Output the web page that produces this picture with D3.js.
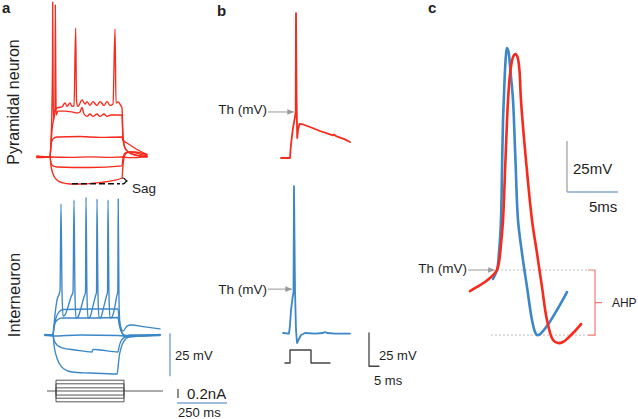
<!DOCTYPE html>
<html><head><meta charset="utf-8">
<script src="https://cdn.jsdelivr.net/npm/d3@7"></script>
<style>body{margin:0;background:#fff}svg{display:block;font-family:"Liberation Sans",Arial,Helvetica,sans-serif}</style>
</head><body><svg id="chart" width="638" height="419"></svg>
<script>
// ---------- DATA (time in ms, membrane potential in mV, current in nA) ----------
// Panel a – pyramidal neuron, current-step responses
const pyrSpike1 = [[-65,-65],[0,-65],[5,-55.1],[9,-40.6],[12.5,-8.6],[13.5,25.1],[15,-8.6],[17,-43.5],[20,-38.8],[35,-36.5],[60,-35.9],[75,-33.5],[85,-35.6],[100,-33.5],[110,-35.6],[120,-35.3],[128.5,10],[132.5,-32.2],[140,-35.6],[160,-31.8],[175,-34.2],[185,-32.8],[200,-35],[215,-32.8],[235,-35],[250,-32.8],[270,-35],[285,-32.8],[300,-35],[315,-34.2],[325,9.4],[330,-33.6],[340,-33],[355,-35.3],[360,-36.5],[365,-52.2],[375,-59.8],[400,-62.7],[450,-64.4],[485,-65]];
const pyrSpike2 = [[-65,-65.3],[0,-65],[5,-58],[10,-49.3],[20,-42.3],[25,-38.8],[26.5,23.4],[28.5,-8.6],[31,-40.6],[40,-38.3],[75,-38.3],[110,-38.8],[135,-39.4],[150,-38.8],[160,-36.2],[170,-40],[185,-41.4],[200,-40],[215,-41.4],[235,-40],[250,-41.4],[270,-40],[285,-41.4],[305,-40.6],[330,-40.6],[355,-40.6],[360,-41.2],[365,-55.1],[380,-60.9],[410,-63.3],[485,-64.7]];
const pyrDepol = [[-65,-64.8],[0,-65],[5,-58],[15,-54.5],[35,-53.4],[150,-53.1],[250,-53.6],[360,-53.4],[365,-55.1],[385,-56.9],[415,-59.2],[450,-61.5],[485,-63.5]];
const pyrRest = [[-65,-64.4],[0,-65],[100,-65.2],[200,-64.9],[300,-65.2],[360,-65],[400,-65.4],[485,-64.7]];
const pyrHyper1 = [[-65,-65.2],[0,-65],[5,-68.5],[15,-70.2],[35,-70.8],[200,-71.1],[360,-70.2],[365,-65.6],[375,-62.7],[400,-62.1],[450,-63.3],[485,-64.4]];
const pyrHyper2 = [[-65,-65],[0,-65],[5,-70.2],[15,-74.9],[35,-78.4],[65,-80.1],[100,-80.7],[150,-80.7],[225,-80.1],[300,-79],[360,-77.2],[365,-69.7],[375,-63.8],[390,-62.1],[425,-62.1],[485,-63.8]];
const sagSpan = [110, 350];           // ms, dashed sag marker
const sagLevels = [-80.6, -77.2];     // mV, peak vs steady-state

// Panel a – interneuron
const intSpike = [[-40,-65],[0,-65],[5,-59.2],[12.5,-50.5],[20,-44.7],[35,-39.4],[40,11.2],[45,-38.8],[50,-54],[60,-53.4],[75,-48.7],[90,-42.9],[100,-40],[105,13.5],[110,-41.7],[115,-55.1],[125,-54.5],[140,-49.3],[155,-42.9],[162.5,-40],[165,15.2],[170,-41.7],[175,-55.1],[185,-54.5],[200,-48.1],[212.5,-42.3],[217.5,-40],[220,14.1],[225,-41.7],[230,-55.1],[240,-54.5],[255,-48.1],[267.5,-42.3],[272.5,-40],[275,13.5],[280,-41.7],[285,-55.1],[295,-54.5],[310,-48.1],[320,-41.7],[324,-40],[326,14.1],[330,-44.7],[335,-59.2],[345,-63.8],[365,-66.2],[395,-65.6],[535,-65]];
const intDepol1 = [[-40,-65.3],[0,-65],[5,-60.9],[15,-55.1],[30,-51.6],[50,-50.2],[185,-49.9],[325,-49.9],[330,-55.1],[340,-60.9],[350,-62.7],[370,-59.8],[390,-59.2],[460,-60.3],[535,-61.5]];
const intDepol2 = [[-40,-64.7],[0,-65],[2.5,-62.1],[10,-58],[25,-56],[45,-55.1],[185,-55.1],[325,-54.8],[330,-58.6],[340,-62.7],[355,-65],[385,-65.6],[535,-65.3]];
const intRest = [[-40,-65],[0,-65.6],[135,-65],[325,-65.3],[360,-65.6],[535,-64.7]];
const intHyper1 = [[-40,-65],[0,-65],[5,-67.9],[20,-70.8],[50,-72.6],[110,-73.7],[195,-74.9],[200,-73.4],[235,-73.7],[325,-74.9],[330,-72],[340,-68.5],[360,-66.2],[385,-65],[535,-65]];
const intHyper2 = [[-40,-65],[0,-65],[5,-70.8],[15,-76.6],[30,-81.3],[55,-84.8],[95,-86.5],[185,-87.1],[320,-87.7],[325,-84.2],[330,-78.4],[340,-72.6],[355,-68.5],[380,-66.2],[535,-65]];
const stepLevels = [0.24, 0.16, 0.07, -0.09, -0.16, -0.24];   // nA
const stepTimes = [15, 355];                                   // ms (on, off)
const stepBaseline = [-30, 550];                               // ms

// Panel b – single action potentials
const bPyr = [[-7.5,-65],[-3,-65],[-2.75,-59],[-2.25,-51.5],[-1.5,-42.4],[-0.5,-34.2],[-0.15,-30.4],[0,44],[0.3,-21.4],[0.6,-50],[1,-44],[1.75,-39.4],[3.5,-39.8],[7,-41.7],[12,-44.7],[17,-47.3],[18.5,-48],[19,-47.3],[20,-48.5],[24.5,-51],[27,-53]];
const bInt = [[-5.5,-65],[-2.5,-65.4],[-2,-59],[-1.5,-47.7],[-0.75,-38.7],[-0.25,-34.2],[0,45.5],[0.5,-32.7],[1,-62.7],[1.5,-72.5],[2.5,-69.5],[3.5,-66.5],[5.5,-65],[10.5,-65.4],[14.5,-65],[15.5,-64.2],[16.5,-65],[20.5,-65.4],[28,-65.4]];
const bThreshold = [-30.4, -32];   // mV (pyramidal, interneuron)
const bStimTimes = [-4.5, -2, 8.5, 18];
const bStimAmp = 1;

// Panel c – overlaid action potentials
const cInt = [[-0.39,-49.4],[0,-45],[0.2,-36.2],[0.39,-20.5],[0.49,4],[0.59,28.5],[0.74,48.1],[0.88,60.4],[0.98,63.8],[1.13,61.9],[1.27,55.5],[1.42,47.2],[1.57,38.3],[1.81,8.9],[2.06,-20.5],[2.45,-36.7],[2.94,-53.3],[3.43,-69.5],[3.73,-75.4],[3.92,-76.9],[4.22,-76.4],[4.9,-72.5],[5.88,-64.6],[6.86,-55.8]];
const cPyr = [[-2.65,-55.3],[-1.96,-53.3],[-1.18,-50.9],[-0.69,-48.9],[-0.29,-47],[0,-45],[0.2,-41.1],[0.39,-32.7],[0.59,-20.5],[0.83,8.9],[1.08,38.3],[1.27,50.6],[1.47,57.5],[1.67,60.4],[1.81,60.9],[2.01,59.4],[2.2,53],[2.35,38.3],[2.84,8.9],[3.43,-20.5],[3.92,-36.7],[4.41,-53.3],[4.9,-69.5],[5.49,-79.3],[5.98,-80.8],[6.47,-80.3],[6.96,-78.3],[7.65,-74.9],[8.24,-71.5]];
const cThreshold = -45;
const cAHPTrough = -76.9;

// ---------- COLOURS ----------
const RED = "#f72a1c", BLUE = "#3b87c7", TXT = "#1e1e1e";

// ---------- DRAW ----------
const svg = d3.select("#chart");
svg.append("rect").attr("width",638).attr("height",419).attr("fill","#fff");
const defs = svg.append("defs");
defs.append("marker").attr("id","arr").attr("viewBox","0 0 10 10").attr("refX",9).attr("refY",5)
  .attr("markerWidth",7).attr("markerHeight",7).attr("orient","auto")
  .append("path").attr("d","M0,1 L10,5 L0,9 z").attr("fill","#999");

function trace(data, xs, ys, color, w, curve){
  const ln = d3.line().x(d=>xs(d[0])).y(d=>ys(d[1])).curve(curve||d3.curveLinear);
  return svg.append("path").attr("d", ln(data)).attr("fill","none").attr("stroke",color)
    .attr("stroke-width",w).attr("stroke-linejoin","round").attr("stroke-linecap","round");
}
function seg(x1,y1,x2,y2,color,w){
  return svg.append("line").attr("x1",x1).attr("y1",y1).attr("x2",x2).attr("y2",y2)
    .attr("stroke",color).attr("stroke-width",w||1);
}
function txt(x,y,s,size,opts){
  opts=opts||{};
  const t=svg.append("text").attr("x",x).attr("y",y).text(s).attr("font-size",size)
    .attr("fill",opts.fill||TXT).attr("text-anchor",opts.anchor||"start");
  if(opts.bold) t.attr("font-weight","bold");
  if(opts.transform) t.attr("transform",opts.transform);
  return t;
}

// Panel letters
txt(2,13,"a",15,{bold:true});
txt(217,16,"b",15,{bold:true});
txt(428,13,"c",15,{bold:true});

// Row labels
txt(0,0,"Pyramidal neuron",16,{anchor:"middle",transform:"translate(19,102) rotate(-90)"});
txt(0,0,"Interneuron",16.5,{anchor:"middle",transform:"translate(20,295) rotate(-90)"});

// --- Panel a pyramidal
const aPX = d3.scaleLinear().domain([0,360]).range([50,122]);
const aPY = d3.scaleLinear().domain([-65,25]).range([157,2.2]);
[pyrRest,pyrHyper1,pyrHyper2,pyrDepol,pyrSpike2,pyrSpike1].forEach(d=>trace(d,aPX,aPY,RED,1.35,d3.curveMonotoneX));
// sag marker
seg(aPX(sagSpan[0]),aPY(sagLevels[0]),aPX(sagSpan[1]),aPY(sagLevels[0]),"#111",1.5).attr("stroke-dasharray","6,3");
{
  const bx=aPX(sagSpan[1])+2, y0=aPY(sagLevels[1]), y1=aPY(sagLevels[0]), ym=(y0+y1)/2;
  svg.append("path").attr("d",`M${bx},${y0} Q${bx+3},${y0} ${bx+3},${ym-1.5} L${bx+5},${ym} L${bx+3},${ym+1.5} Q${bx+3},${y1} ${bx},${y1}`)
    .attr("fill","none").attr("stroke","#111").attr("stroke-width",1.2);
  txt(bx+10,y1+9,"Sag",13.5);
}

// --- Panel a interneuron
const aIX = d3.scaleLinear().domain([0,325]).range([53,118]);
const aIY = d3.scaleLinear().domain([-65,25]).range([335,180.2]);
[intRest,intHyper1,intHyper2,intDepol2,intDepol1,intSpike].forEach(d=>trace(d,aIX,aIY,BLUE,1.35,d3.curveMonotoneX));
// current steps
const aCY = d3.scaleLinear().domain([0,0.2]).range([391,382]);
seg(aIX(stepBaseline[0]),aCY(0),aIX(stepBaseline[1]),aCY(0),"#555",1);
stepLevels.forEach(L=>{
  trace([[stepTimes[0],0],[stepTimes[0],L],[stepTimes[1],L],[stepTimes[1],0]],aIX,d=>aCY(d),"#555",1);
});
// scale bars a
seg(aIX(585),aIY(-64),aIX(585),aIY(-89),"#7ea6d3",1.5);
txt(aIX(585)+5,360,"25 mV",13);
seg(aIX(625),aCY(0.044),aIX(625),aCY(-0.156),"#444",1.2);
txt(aIX(625)+9,399,"0.2nA",15);
seg(aIX(620),aCY(-0.267),aIX(870),aCY(-0.267),"#7ea6d3",1.5);
txt(aIX(620)+1,417,"250 ms",13);

// --- Panel b
const bRX = d3.scaleLinear().domain([0,10]).range([296,316]);
const bRY = d3.scaleLinear().domain([-65,-40]).range([158,124.75]);
const bIX = d3.scaleLinear().domain([0,10]).range([294,314]);
const bIY = d3.scaleLinear().domain([-65,-40]).range([333,299.75]);
const bCY = d3.scaleLinear().domain([0,1]).range([363,350]);
trace(bPyr,bRX,bRY,RED,1.8);
trace(bInt,bIX,bIY,BLUE,1.8);
trace([[bStimTimes[0],0],[bStimTimes[1],0],[bStimTimes[1],bStimAmp],[bStimTimes[2],bStimAmp],[bStimTimes[2],0],[bStimTimes[3],0]],bIX,bCY,"#444",1.4);
seg(bRX(-14),bRY(bThreshold[0]),bRX(-1.2),bRY(bThreshold[0]),"#999",1).attr("marker-end","url(#arr)");
txt(bRX(-14.5),114,"Th (mV)",13.5,{anchor:"end"});
seg(bIX(-13),bIY(bThreshold[1]),bIX(-1.2),bIY(bThreshold[1]),"#999",1).attr("marker-end","url(#arr)");
txt(bIX(-13.5),294,"Th (mV)",13.5,{anchor:"end"});
// scale bar b
trace([[37.5,-65],[37.5,-90],[42.5,-90]],bIX,bIY,"#444",1.3);
txt(bIX(42.5),360,"25 mV",13);
txt(bIX(40),385,"5 ms",13);

// --- Panel c
const cX = d3.scaleLinear().domain([0,5]).range([497,548]);
const cY = d3.scaleLinear().domain([-45,-20]).range([270,219]);
seg(cX(0),cY(cThreshold),cX(8.92),cY(cThreshold),"#bbb",1).attr("stroke-dasharray","2,2");
seg(cX(-0.6),cY(cAHPTrough),cX(8.92),cY(cAHPTrough),"#bbb",1).attr("stroke-dasharray","2,2");
trace(cInt,cX,cY,BLUE,2.6,d3.curveCatmullRom.alpha(0.5));
trace(cPyr,cX,cY,RED,2.6,d3.curveCatmullRom.alpha(0.5));
seg(cX(-2.84),cY(cThreshold),cX(-0.25),cY(cThreshold),"#999",1).attr("marker-end","url(#arr)");
txt(cX(-2.95),272.5,"Th (mV)",13.5,{anchor:"end"});
// AHP bracket
{
  const xa=cX(8.92), xb=cX(9.61), xc=cX(10.29), yt=cY(cThreshold), yb=cY(cAHPTrough), ym=(yt+yb)/2;
  svg.append("path").attr("d",`M${xa},${yt} L${xb},${yt} L${xb},${yb} L${xa},${yb} M${xb},${ym} L${xc},${ym}`)
    .attr("fill","none").attr("stroke","#f07a72").attr("stroke-width",1.2);
  txt(xc+10,ym+4.5,"AHP",12);
}
// scale bar c
seg(cX(6.86),cY(18.2),cX(6.86),cY(-6.8),"#999",1.2);
seg(cX(6.86),cY(-6.8),cX(11.86),cY(-6.8),"#8aa8cf",1.5);
txt(cX(6.86)+6,174,"25mV",15);
txt(cX(9.01),212,"5ms",15);
</script></body></html>
